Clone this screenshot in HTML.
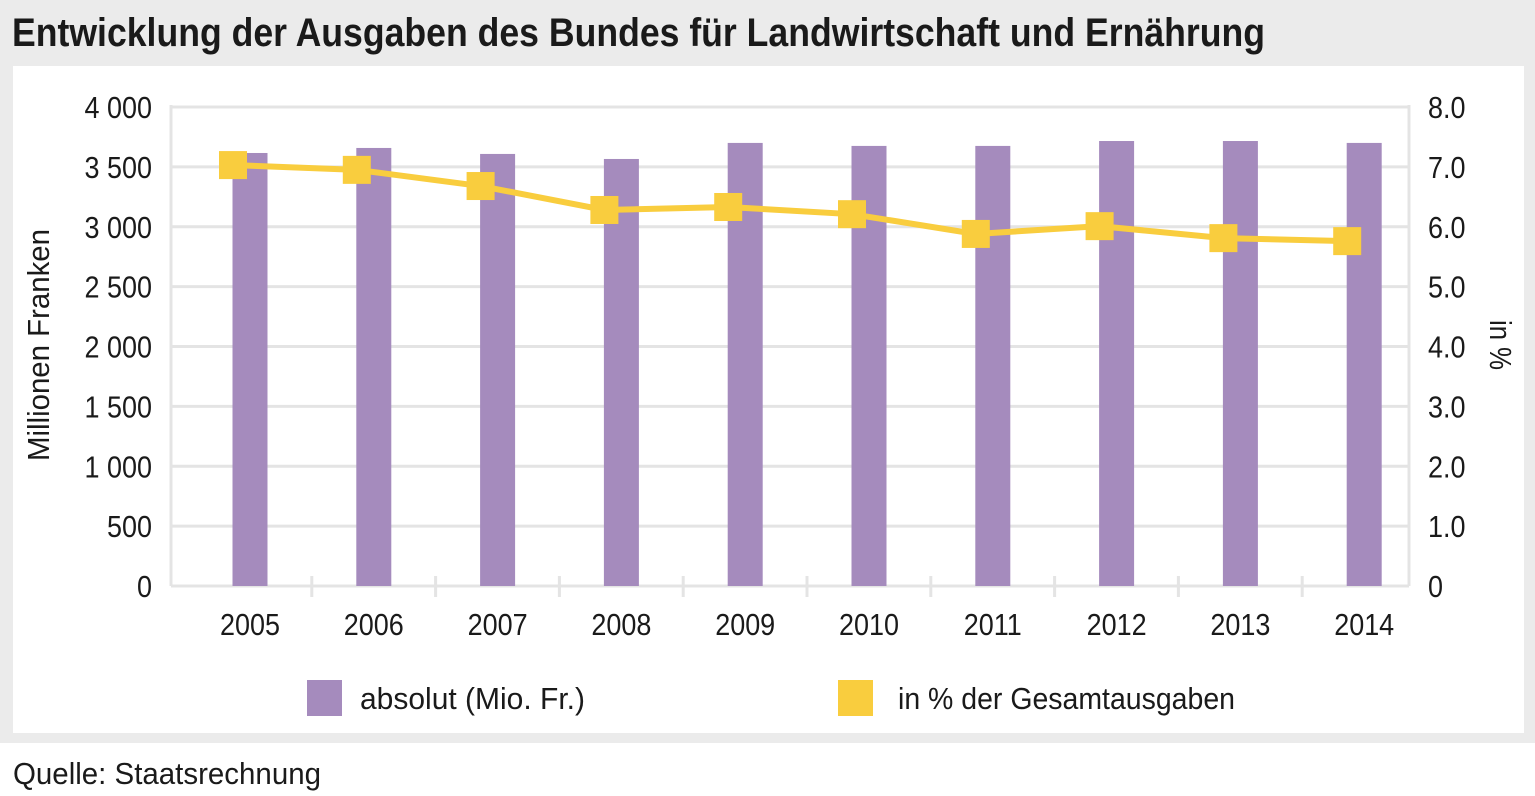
<!DOCTYPE html>
<html><head><meta charset="utf-8"><style>
html,body{margin:0;padding:0;background:#fff;}
svg{display:block;font-family:"Liberation Sans",sans-serif;}
</style></head><body>
<svg width="1535" height="796" viewBox="0 0 1535 796">
<rect x="0" y="0" width="1535" height="743" fill="#ebebeb"/>
<rect x="13" y="66" width="1511" height="667" fill="#fff"/>
<text x="12" y="46" font-size="40" font-weight="bold" fill="#1a1a1a" textLength="1253" lengthAdjust="spacingAndGlyphs">Entwicklung der Ausgaben des Bundes für Landwirtschaft und Ernährung</text>
<g id="grid"></g>
<g id="bars"></g>
<g id="line"></g>
<g id="axes"></g>
<text transform="translate(49,345) rotate(-90)" text-anchor="middle" font-size="31" fill="#1a1a1a" textLength="232" lengthAdjust="spacingAndGlyphs">Millionen Franken</text>
<text transform="translate(1490,345) rotate(90)" text-anchor="middle" font-size="31" fill="#1a1a1a" textLength="50" lengthAdjust="spacingAndGlyphs">in %</text>
<rect x="307" y="680" width="35" height="36" fill="#a58bbd"/>
<text x="360" y="709" font-size="31" fill="#1a1a1a" textLength="225" lengthAdjust="spacingAndGlyphs">absolut (Mio. Fr.)</text>
<rect x="838" y="680" width="35" height="36" fill="#f9cd3e"/>
<text x="898" y="709" font-size="31" fill="#1a1a1a" textLength="337" lengthAdjust="spacingAndGlyphs">in % der Gesamtausgaben</text>
<text x="13" y="784" font-size="31" fill="#1a1a1a" textLength="308" lengthAdjust="spacingAndGlyphs">Quelle: Staatsrechnung</text>
</svg>
<script>
const categories=["2005","2006","2007","2008","2009","2010","2011","2012","2013","2014"];
const absValues=[3616,3658,3608,3566,3700,3675,3675,3716,3716,3700];
const pctValues=[7.03,6.95,6.68,6.28,6.33,6.21,5.88,6.01,5.81,5.76];
const leftTicks=[0,500,1000,1500,2000,2500,3000,3500,4000];
const leftTickLabels=["0","500","1 000","1 500","2 000","2 500","3 000","3 500","4 000"];
const rightTicks=[0,1,2,3,4,5,6,7,8];
const rightTickLabels=["0","1.0","2.0","3.0","4.0","5.0","6.0","7.0","8.0"];

const NS="http://www.w3.org/2000/svg";
const L=171,R=1409,Y0=586,Y1=107;
const yL=v=>Y0-(v/4000)*(Y0-Y1);
const yR=v=>Y0-(v/8)*(Y0-Y1);
const step=(R-L)/categories.length;
const xC=i=>L+79+i*(step);
function mk(t,a,p){const e=document.createElementNS(NS,t);for(const k in a)e.setAttribute(k,a[k]);p.appendChild(e);return e;}
function squeeze(t){const w=t.getComputedTextLength();t.setAttribute('textLength',w*0.87);t.setAttribute('lengthAdjust','spacingAndGlyphs');}
const grid=document.getElementById('grid'),bars=document.getElementById('bars'),line=document.getElementById('line'),axes=document.getElementById('axes');
leftTicks.forEach((v,i)=>{
  const g=mk('line',{x1:L,x2:R,y1:yL(v),y2:yL(v),stroke:'#e4e4e4','stroke-width':3},grid);
  
  
  const t=mk('text',{x:152,y:yL(v)+11,'text-anchor':'end','font-size':31,fill:'#1a1a1a'},axes);
  t.textContent=leftTickLabels[i];
  
  
  squeeze(t);
});
rightTicks.forEach((v,i)=>{
  const t=mk('text',{x:1428,y:yR(v)+11,'font-size':31,fill:'#1a1a1a'},axes);
  t.textContent=rightTickLabels[i];
  
  
  squeeze(t);
});
const lv=mk('line',{x1:L,x2:L,y1:Y1-2,y2:Y0,stroke:'#e4e4e4','stroke-width':3},grid);


const rv=mk('line',{x1:R,x2:R,y1:Y1-2,y2:Y0,stroke:'#e4e4e4','stroke-width':3},grid);


for(let i=1;i<categories.length;i++){
  const x=xC(i)-62;
  const tk=mk('line',{x1:x,x2:x,y1:576,y2:597,stroke:'#e4e4e4','stroke-width':3},grid);
  
  
}
categories.forEach((c,i)=>{
  const b=mk('rect',{x:xC(i)-17.5,y:yL(absValues[i]),width:35,height:Y0-yL(absValues[i]),fill:'#a58bbd'},bars);
  
  
  const t=mk('text',{x:xC(i),y:635,'text-anchor':'middle','font-size':31,fill:'#1a1a1a'},axes);
  t.textContent=c;
  
  
  squeeze(t);
});
const pts=pctValues.map((v,i)=>(xC(i)-17)+','+yR(v)).join(' ');
const pl=mk('polyline',{points:pts,fill:'none',stroke:'#f9cd3e','stroke-width':6},line);


pctValues.forEach((v,i)=>{
  const m=mk('rect',{x:xC(i)-17-14,y:yR(v)-14,width:28,height:28,fill:'#f9cd3e'},line);
  
  
});
</script>
</body></html>
